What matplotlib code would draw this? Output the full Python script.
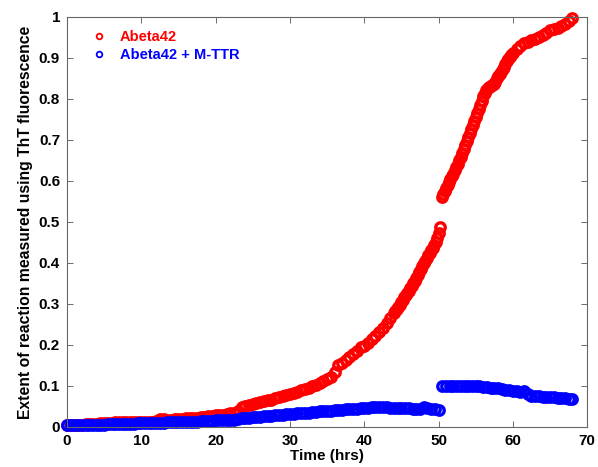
import matplotlib
matplotlib.use("Agg")
import matplotlib.pyplot as plt
from matplotlib.ticker import FixedLocator, FuncFormatter

plt.rcParams['font.family'] = ['Liberation Sans', 'DejaVu Sans']

# ---------------- data ----------------
red_t = [0.0, 0.5, 1.0, 1.5, 2.0, 2.5, 3.0, 3.5, 4.0, 4.5, 5.0, 5.5, 6.0, 6.5, 7.0, 7.5,
         8.0, 8.5, 9.0, 9.5, 10.0, 10.5, 11.0, 11.5, 12.0, 12.5, 13.0, 13.5, 14.0, 14.5,
         15.0, 15.5, 16.0, 16.5, 17.0, 17.5, 18.0, 18.5, 19.0, 19.5, 20.0, 20.5, 21.0,
         21.5, 22.0, 22.5, 23.0, 23.5, 24.0, 24.5, 25.0, 25.5, 26.0, 26.5, 27.0, 27.5,
         28.0, 28.5, 29.0, 29.5, 30.0, 30.5, 31.0, 31.5, 32.0, 32.5, 33.0, 33.5, 34.0,
         34.5, 35.0, 35.5, 36.0, 36.5, 37.0, 37.5, 38.0, 38.5, 39.0, 39.5, 40.0, 40.5,
         41.0, 41.5, 42.0, 42.5, 43.0, 43.5,
         44.0, 44.2, 44.4, 44.6, 44.8, 45.0, 45.2, 45.4, 45.6, 45.8, 46.0, 46.2, 46.4,
         46.6, 46.8, 47.0, 47.2, 47.4, 47.6, 47.8, 48.0, 48.2, 48.4, 48.6, 48.8, 49.0,
         49.2, 49.4, 49.6, 49.8, 50.0, 50.2,
         50.4, 50.6, 50.8, 51.0, 51.2, 51.4, 51.6, 51.8, 52.0, 52.2, 52.4, 52.6, 52.8,
         53.0, 53.2, 53.4, 53.6, 53.8, 54.0, 54.2, 54.4, 54.6, 54.8, 55.0, 55.2, 55.4,
         55.6, 55.8, 56.0, 56.2, 56.4, 56.6, 56.8, 57.0, 57.2, 57.4, 57.6, 57.8, 58.0,
         58.2, 58.4, 58.6, 58.8, 59.0, 59.2, 59.4, 59.6, 59.8, 60.0,
         60.5, 61.0, 61.5, 62.0, 62.5, 63.0, 63.5, 64.0, 64.5, 65.0, 65.5, 66.0, 66.5,
         67.0, 67.5, 68.0]
red_v = [0.004, 0.005, 0.005, 0.006, 0.006, 0.007, 0.007, 0.008, 0.008, 0.009, 0.009,
         0.010, 0.010, 0.011, 0.011, 0.012, 0.012, 0.013, 0.012, 0.013, 0.012, 0.012,
         0.013, 0.013, 0.014, 0.019, 0.019, 0.018, 0.018, 0.019, 0.020, 0.020, 0.021,
         0.022, 0.022, 0.023, 0.024, 0.025, 0.026, 0.027, 0.028, 0.029, 0.030, 0.032,
         0.033, 0.035, 0.038, 0.048, 0.052, 0.054, 0.056, 0.058, 0.060, 0.063, 0.065,
         0.067, 0.070, 0.072, 0.075, 0.077, 0.080, 0.083, 0.086, 0.089, 0.092, 0.096,
         0.099, 0.103, 0.108, 0.112, 0.117, 0.122, 0.135, 0.150, 0.156, 0.163, 0.170,
         0.178, 0.186, 0.195, 0.198, 0.206, 0.214, 0.222, 0.232, 0.242, 0.253, 0.265,
         0.277, 0.282, 0.287, 0.292, 0.298, 0.304, 0.310, 0.316, 0.321, 0.326, 0.332,
         0.338, 0.344, 0.350, 0.357, 0.364, 0.371, 0.378, 0.385, 0.392, 0.399, 0.406,
         0.413, 0.419, 0.425, 0.431, 0.437, 0.443, 0.450, 0.462, 0.474, 0.487,
         0.560, 0.568, 0.575, 0.582, 0.590, 0.597, 0.604, 0.611, 0.618, 0.626, 0.634,
         0.642, 0.650, 0.659, 0.668, 0.678, 0.688, 0.697, 0.706, 0.716, 0.726, 0.736,
         0.746, 0.756, 0.766, 0.776, 0.786, 0.796, 0.806, 0.815, 0.822, 0.826, 0.830,
         0.832, 0.834, 0.836, 0.842, 0.850, 0.856, 0.861, 0.866, 0.872, 0.879, 0.886,
         0.892, 0.898, 0.903, 0.908, 0.913,
         0.922, 0.930, 0.936, 0.940, 0.943, 0.947, 0.951, 0.956, 0.962, 0.967, 0.971,
         0.974, 0.978, 0.983, 0.990, 0.997]

blue_t = [0.0, 0.5, 1.0, 1.5, 2.0, 2.5, 3.0, 3.5, 4.0, 4.5, 5.0, 5.5, 6.0, 6.5, 7.0, 7.5,
          8.0, 8.5, 9.0, 9.5, 10.0, 10.5, 11.0, 11.5, 12.0, 12.5, 13.0, 13.5, 14.0, 14.5,
          15.0, 15.5, 16.0, 16.5, 17.0, 17.5, 18.0, 18.5, 19.0, 19.5, 20.0, 20.5, 21.0,
          21.5, 22.0, 22.5, 23.0, 23.5, 24.0, 24.5, 25.0, 25.5, 26.0, 26.5, 27.0, 27.5,
          28.0, 28.5, 29.0, 29.5, 30.0, 30.5, 31.0, 31.5, 32.0, 32.5, 33.0, 33.5, 34.0,
          34.5, 35.0, 35.5, 36.0, 36.5, 37.0, 37.5, 38.0, 38.5, 39.0, 39.5, 40.0, 40.5,
          41.0, 41.5, 42.0, 42.5, 43.0, 43.5, 44.0, 44.5, 45.0, 45.5, 46.0, 46.5, 47.0,
          47.5, 48.0, 48.5, 49.0, 49.5, 50.0,
          50.5, 51.0, 51.5, 52.0, 52.5, 53.0, 53.5, 54.0, 54.5, 55.0, 55.5, 56.0, 56.5,
          57.0, 57.5, 58.0, 58.5, 59.0, 59.5, 60.0, 60.5, 61.0, 61.5, 62.0, 62.5, 63.0,
          63.5, 64.0, 64.5, 65.0, 65.5, 66.0, 66.5, 67.0, 67.5, 68.0]
blue_v = [0.004, 0.004, 0.004, 0.005, 0.005, 0.005, 0.005, 0.006, 0.006, 0.006, 0.006,
          0.007, 0.007, 0.007, 0.007, 0.008, 0.008, 0.008, 0.008, 0.009, 0.009, 0.009,
          0.009, 0.010, 0.010, 0.010, 0.010, 0.011, 0.011, 0.011, 0.012, 0.012, 0.012,
          0.013, 0.013, 0.013, 0.014, 0.014, 0.015, 0.015, 0.016, 0.016, 0.017, 0.017,
          0.018, 0.018, 0.019, 0.021, 0.022, 0.023, 0.024, 0.024, 0.025, 0.026, 0.027,
          0.027, 0.028, 0.029, 0.030, 0.031, 0.031, 0.032, 0.033, 0.034, 0.035, 0.035,
          0.036, 0.037, 0.038, 0.038, 0.039, 0.040, 0.041, 0.041, 0.042, 0.043, 0.044,
          0.044, 0.045, 0.046, 0.047, 0.047, 0.048, 0.048, 0.048, 0.048, 0.048, 0.047,
          0.047, 0.047, 0.046, 0.046, 0.046, 0.045, 0.045, 0.045, 0.049, 0.047, 0.045,
          0.044, 0.042,
          0.100, 0.099, 0.099, 0.099, 0.099, 0.099, 0.099, 0.100, 0.100, 0.100, 0.099,
          0.098, 0.097, 0.096, 0.095, 0.094, 0.093, 0.091, 0.090, 0.088, 0.087, 0.086,
          0.087, 0.080, 0.076, 0.075, 0.075, 0.074, 0.073, 0.072, 0.072, 0.071, 0.071,
          0.070, 0.069, 0.069]

x_ticks = [0, 10, 20, 30, 40, 50, 60, 70]
y_ticks = [0, 0.1, 0.2, 0.3, 0.4, 0.5, 0.6, 0.7, 0.8, 0.9, 1.0]
labels = ["Abeta42", "Abeta42 + M-TTR"]

# ---------------- figure ----------------
fig = plt.figure(figsize=(5.98, 4.67), dpi=100)
ax = fig.add_axes([0.112, 0.0857, 0.870, 0.878])

ax.plot(red_t, red_v, linestyle='none', marker='o', markersize=6.8,
        markerfacecolor='none', markeredgecolor='#ff0000', markeredgewidth=2.4,
        label=labels[0], clip_on=False)
ax.plot(blue_t, blue_v, linestyle='none', marker='o', markersize=6.8,
        markerfacecolor='none', markeredgecolor='#0000ff', markeredgewidth=2.4,
        label=labels[1], clip_on=False)

ax.set_xlim(0, 70)
ax.set_ylim(0, 1)
ax.xaxis.set_major_locator(FixedLocator(x_ticks))
ax.yaxis.set_major_locator(FixedLocator(y_ticks))
ax.yaxis.set_major_formatter(FuncFormatter(lambda v, p: ('%g' % v)))
ax.tick_params(direction='in', length=4, width=0.6, top=True, right=True,
               labelsize=11, color='#555555', pad=5)
for lab in ax.get_xticklabels() + ax.get_yticklabels():
    lab.set_fontweight('bold')
for s in ax.spines.values():
    s.set_linewidth(0.8)
    s.set_color('#666666')

ax.set_xlabel("Time (hrs)", fontsize=11, fontweight='bold', labelpad=1)
ax.set_ylabel("Extent of reaction measured using ThT fluorescence",
              fontsize=11.3, fontweight='bold', labelpad=4)

leg = ax.legend(loc='upper left', frameon=False, fontsize=10.5, markerscale=0.6,
                handlelength=1.2, handletextpad=0.8, borderaxespad=0.5,
                labelspacing=0.3, bbox_to_anchor=(0.02, 1.0))
for txt, col in zip(leg.get_texts(), ['#ff0000', '#0000ff']):
    txt.set_color(col)
    txt.set_fontweight('bold')
for h in leg.legend_handles:
    h.set_markeredgewidth(1.3)

fig.savefig("out.png", dpi=100)
